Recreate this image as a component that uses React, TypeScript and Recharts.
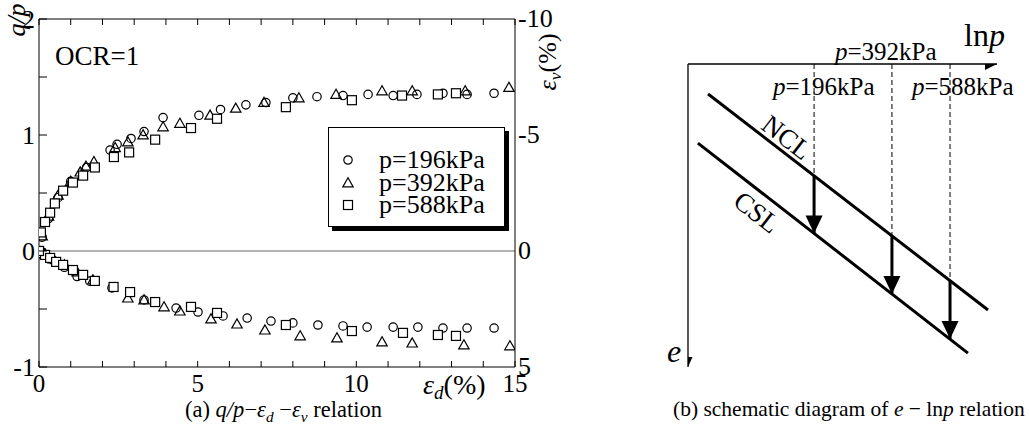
import React from 'react';
import {
  ScatterChart,
  ComposedChart,
  Scatter,
  XAxis,
  YAxis,
  ReferenceLine,
  Legend,
} from 'recharts';

const FONT = '"Liberation Serif", "Times New Roman", Times, serif';

// ---------- (a) q/p – εd – εv, OCR = 1 ----------
const PRESSURES = [196, 392, 588];

// stress ratio q/p against deviatoric strain εd (%)
const ED_Q_196 = [0.1, 0.3, 0.6, 1.0, 1.5, 2.24, 2.46, 2.9, 3.31, 3.91, 5.04, 5.72, 6.52, 7.15, 8.0, 8.76, 9.58, 10.37, 11.16, 11.91, 12.73, 13.49, 14.34];
const QP_196 = [0.12, 0.28, 0.46, 0.6, 0.72, 0.87, 0.92, 0.97, 1.03, 1.15, 1.17, 1.22, 1.26, 1.28, 1.32, 1.33, 1.34, 1.35, 1.34, 1.35, 1.36, 1.35, 1.36];

const ED_Q_392 = [0.1, 0.3, 0.6, 1.0, 1.3, 1.48, 1.73, 2.4, 2.8, 3.28, 3.91, 4.44, 5.39, 6.2, 7.09, 8.19, 9.36, 10.81, 11.76, 13.43, 14.81];
const QP_392 = [0.13, 0.3, 0.48, 0.6, 0.68, 0.73, 0.77, 0.89, 0.94, 1.0, 1.07, 1.1, 1.17, 1.23, 1.28, 1.32, 1.35, 1.38, 1.38, 1.38, 1.41];

const ED_Q_588 = [0.0, 0.06, 0.19, 0.35, 0.5, 0.76, 1.07, 1.39, 1.76, 2.36, 2.84, 3.66, 4.79, 5.61, 7.78, 9.86, 11.44, 12.57, 13.14];
const QP_588 = [0.0, 0.16, 0.25, 0.33, 0.41, 0.52, 0.59, 0.65, 0.72, 0.81, 0.85, 0.96, 1.06, 1.14, 1.24, 1.3, 1.34, 1.35, 1.36];

// volumetric strain εv (%) against deviatoric strain εd (%)
const ED_V_196 = [0.05, 0.2, 0.45, 0.8, 1.2, 1.6, 2.3, 3.31, 4.32, 5.01, 5.8, 6.56, 7.31, 8.0, 8.79, 9.58, 10.34, 11.16, 11.94, 12.73, 13.49, 14.34];
const EV_196 = [0.05, 0.18, 0.4, 0.7, 1.1, 1.3, 1.59, 2.11, 2.46, 2.63, 2.8, 2.89, 3.02, 3.1, 3.19, 3.23, 3.28, 3.28, 3.28, 3.32, 3.32, 3.32];

const ED_V_392 = [0.05, 0.2, 0.45, 0.8, 1.2, 1.7, 2.8, 3.31, 3.94, 4.44, 5.42, 6.24, 7.12, 8.23, 9.39, 10.81, 11.76, 13.39, 14.84];
const EV_392 = [0.04, 0.14, 0.35, 0.6, 0.9, 1.25, 2.03, 2.11, 2.41, 2.59, 2.93, 3.15, 3.41, 3.66, 3.75, 3.92, 3.97, 4.05, 4.09];

const ED_V_588 = [0.0, 0.03, 0.19, 0.35, 0.54, 0.76, 1.07, 1.39, 1.76, 2.35, 2.87, 3.66, 4.79, 5.61, 7.78, 9.86, 11.47, 12.57, 13.14];
const EV_588 = [0.0, 0.09, 0.17, 0.3, 0.47, 0.6, 0.82, 1.03, 1.29, 1.55, 1.77, 2.2, 2.41, 2.67, 3.19, 3.45, 3.53, 3.62, 3.66];

const X_TICKS = [0, 1, 2, 3, 4, 5, 6, 7, 8, 9, 10, 11, 12, 13, 14, 15];
const Q_TICKS = [-1, -0.5, 0, 0.5, 1, 1.5, 2];
const V_TICKS = [-10, -5, 0, 5];

// ---------- (b) schematic e – ln p ----------
const P_POS = [4.08, 6.6, 8.48];
const E_NCL = [3.69, 5.67, 7.15];
const E_CSL = [5.59, 7.59, 9.08];
const NCL_LINE = [{ x: 0.65, y: 0.99 }, { x: 9.71, y: 8.12 }];
const CSL_LINE = [{ x: 0.32, y: 2.61 }, { x: 9.06, y: 9.54 }];
const AXIS_TIPS = [
  { x: 10, y: 0, dir: 'right' },
  { x: 0, y: 10, dir: 'down' },
];

const zip = (xs: number[], ys: number[]) => xs.map((x, i) => ({ x, y: ys[i] }));

// ---------- markers ----------
const CircleMark = (p: any) => (
  <circle cx={p.cx} cy={p.cy} r={4.2} fill="none" stroke="#000" strokeWidth={1.2} />
);
const TriMark = (p: any) => {
  const s = 5.2;
  return (
    <polygon
      points={`${p.cx},${p.cy - s} ${p.cx - s},${p.cy + s * 0.75} ${p.cx + s},${p.cy + s * 0.75}`}
      fill="none"
      stroke="#000"
      strokeWidth={1.2}
    />
  );
};
const SquareMark = (p: any) => (
  <rect x={p.cx - 4.5} y={p.cy - 4.5} width={9} height={9} fill="#fff" stroke="#000" strokeWidth={1.2} />
);
const MARKS = [CircleMark, TriMark, SquareMark];

// ---------- axis ticks (drawn inward) ----------
const TICK_FONT = 25;
const BottomTick = (p: any) => {
  const v = p.payload.value;
  return (
    <g>
      <line x1={p.x} x2={p.x} y1={p.y} y2={p.y - 6} stroke="#000" />
      {v % 5 === 0 && (
        <text x={p.x} y={p.y + 25} textAnchor="middle" fontFamily={FONT} fontSize={TICK_FONT} fill="#000">
          {v}
        </text>
      )}
    </g>
  );
};
const TopTick = (p: any) => (
  <line x1={p.x} x2={p.x} y1={p.y} y2={p.y + 6} stroke="#000" />
);
const LeftTick = (p: any) => {
  const v = p.payload.value;
  const ax = p.x + 4;
  return (
    <g>
      <line x1={ax} x2={ax + 8} y1={p.y} y2={p.y} stroke="#000" />
      {Number.isInteger(v) && (
        <text x={p.x} y={p.y} dy="0.35em" textAnchor="end" fontFamily={FONT} fontSize={TICK_FONT + 1} fill="#000">
          {v}
        </text>
      )}
    </g>
  );
};
const RightTick = (p: any) => (
  <text x={p.x} y={p.y} dy="0.3em" textAnchor="start" fontFamily={FONT} fontSize={TICK_FONT + 1} fill="#000">
    {p.payload.value}
  </text>
);

// ---------- legend box ----------
const LegendBox = () => (
  <div
    style={{
      width: 177,
      height: 100,
      boxSizing: 'border-box',
      border: '1.5px solid #000',
      boxShadow: '4px 4px 0 #000',
      background: '#fff',
      paddingTop: 21,
      fontFamily: FONT,
      fontSize: 26,
    }}
  >
    {PRESSURES.map((p, i) => {
      const Mark = MARKS[i];
      return (
        <div key={p} style={{ display: 'flex', alignItems: 'center', height: 22.5, lineHeight: '22.5px' }}>
          <svg width={50} height={22} style={{ flex: 'none' }}>
            <Mark cx={19} cy={11} />
          </svg>
          <span>p={p}kPa</span>
        </div>
      );
    })}
  </div>
);

// ---------- (b) arrow heads ----------
const DownHead = (p: any) => (
  <polygon points={`${p.cx - 8.5},${p.cy - 18} ${p.cx + 8.5},${p.cy - 18} ${p.cx},${p.cy}`} fill="#000" />
);
const AxisHead = (p: any) =>
  p.payload.dir === 'right' ? (
    <polygon points={`${p.cx - 12},${p.cy - 6} ${p.cx - 12},${p.cy + 6} ${p.cx},${p.cy}`} fill="#000" />
  ) : (
    <polygon points={`${p.cx - 4.5},${p.cy - 10} ${p.cx + 4.5},${p.cy - 10} ${p.cx},${p.cy}`} fill="#000" />
  );

// italic ε with an italic subscript, followed by upright text
const eps = (s: string, after: string) => (
  <>
    <tspan fontStyle="italic">ε</tspan>
    <tspan fontStyle="italic" fontSize="0.68em" dy="5">
      {s}
    </tspan>
    <tspan dy="-5">{after}</tspan>
  </>
);

export default function App() {
  const qSeries = [zip(ED_Q_196, QP_196), zip(ED_Q_392, QP_392), zip(ED_Q_588, QP_588)];
  const vSeries = [zip(ED_V_196, EV_196), zip(ED_V_392, EV_392), zip(ED_V_588, EV_588)];
  const arrowTips = P_POS.map((x, i) => ({ x, y: E_CSL[i] }));

  return (
    <div style={{ position: 'absolute', left: 0, top: 0, width: 1029, height: 439, background: '#fff' }}>
      {/* (a) */}
      <div style={{ position: 'absolute', left: 0, top: 0 }}>
        <ScatterChart width={600} height={439} margin={{ top: 0, right: 25, bottom: 0, left: 0 }}>
          <XAxis
            xAxisId="b"
            type="number"
            dataKey="x"
            domain={[0, 15]}
            ticks={X_TICKS}
            interval={0}
            height={72}
            tickSize={0}
            tickMargin={0}
            tickLine={false}
            tick={BottomTick}
            axisLine={{ stroke: '#000' }}
            allowDataOverflow
          />
          <XAxis
            xAxisId="t"
            orientation="top"
            type="number"
            dataKey="x"
            domain={[0, 15]}
            ticks={X_TICKS}
            interval={0}
            height={19}
            tickSize={0}
            tickMargin={0}
            tickLine={false}
            tick={TopTick}
            axisLine={{ stroke: '#000' }}
            allowDataOverflow
          />
          <YAxis
            yAxisId="q"
            type="number"
            dataKey="y"
            domain={[-1, 2]}
            ticks={Q_TICKS}
            interval={0}
            width={39}
            tickSize={0}
            tickMargin={4}
            tickLine={false}
            tick={LeftTick}
            axisLine={{ stroke: '#000' }}
            allowDataOverflow
          />
          <YAxis
            yAxisId="v"
            orientation="right"
            reversed
            type="number"
            dataKey="y"
            domain={[-10, 5]}
            ticks={V_TICKS}
            interval={0}
            width={60}
            tickSize={0}
            tickMargin={3}
            tickLine={false}
            tick={RightTick}
            axisLine={{ stroke: '#000' }}
            allowDataOverflow
          />
          <ReferenceLine xAxisId="b" yAxisId="q" y={0} stroke="#666" strokeWidth={1} />
          {vSeries.map((d, i) => (
            <Scatter
              key={'v' + i}
              xAxisId="b"
              yAxisId="v"
              data={d}
              shape={MARKS[i]}
              isAnimationActive={false}
            />
          ))}
          {qSeries.map((d, i) => (
            <Scatter
              key={'q' + i}
              xAxisId="b"
              yAxisId="q"
              data={d}
              shape={MARKS[i]}
              isAnimationActive={false}
            />
          ))}
          <Legend
            layout="vertical"
            verticalAlign="middle"
            align="center"
            content={LegendBox}
            wrapperStyle={{ left: 328, top: 127, width: 'auto', height: 'auto' }}
          />
        </ScatterChart>
      </div>

      {/* (b) */}
      <div style={{ position: 'absolute', left: 640, top: 0 }}>
        <ComposedChart width={389} height={439} margin={{ top: 64, right: 32, bottom: 72, left: 48 }}>
          <XAxis type="number" dataKey="x" domain={[0, 10]} hide allowDataOverflow />
          <YAxis type="number" dataKey="y" domain={[0, 10]} reversed hide allowDataOverflow />
          <ReferenceLine segment={[{ x: 0, y: 0 }, { x: 10, y: 0 }]} stroke="#000" strokeWidth={1.3} ifOverflow="visible" />
          <ReferenceLine segment={[{ x: 0, y: 0 }, { x: 0, y: 10 }]} stroke="#000" strokeWidth={1.3} ifOverflow="visible" />
          {P_POS.map((x, i) => (
            <ReferenceLine
              key={'d' + i}
              segment={[{ x, y: 0 }, { x, y: E_NCL[i] }]}
              stroke="#000"
              strokeWidth={1}
              strokeDasharray="5 3"
              ifOverflow="visible"
            />
          ))}
          <ReferenceLine segment={NCL_LINE} stroke="#000" strokeWidth={3} ifOverflow="visible" />
          <ReferenceLine segment={CSL_LINE} stroke="#000" strokeWidth={3} ifOverflow="visible" />
          {P_POS.map((x, i) => (
            <ReferenceLine
              key={'a' + i}
              segment={[{ x, y: E_NCL[i] }, { x, y: E_CSL[i] }]}
              stroke="#000"
              strokeWidth={3}
              ifOverflow="visible"
            />
          ))}
          <Scatter data={arrowTips} shape={DownHead} isAnimationActive={false} />
          <Scatter data={AXIS_TIPS} shape={AxisHead} isAnimationActive={false} />
        </ComposedChart>
      </div>

      {/* annotations */}
      <svg
        width={1029}
        height={439}
        style={{ position: 'absolute', left: 0, top: 0, pointerEvents: 'none' }}
        fontFamily={FONT}
        fill="#000"
      >
        <text transform="translate(25,20) rotate(-90)" textAnchor="middle" fontSize={26} fontStyle="italic">
          q/p
        </text>
        <text x={55} y={65} fontSize={27}>
          OCR=1
        </text>
        <text transform="translate(556,62) rotate(-90)" textAnchor="middle" fontSize={26}>
          {eps('v', '(%)')}
        </text>
        <text x={423} y={394} fontSize={28}>
          {eps('d', '(%)')}
        </text>
        <text x={185} y={417} fontSize={22.5}>
          <tspan>(a) </tspan>
          <tspan fontStyle="italic">q/p</tspan>
          <tspan>−</tspan>
          {eps('d', ' −')}
          {eps('v', ' relation')}
        </text>

        <text x={673} y={416} fontSize={21.5}>
          <tspan>(b) schematic diagram of </tspan>
          <tspan fontStyle="italic">e</tspan>
          <tspan> − ln</tspan>
          <tspan fontStyle="italic">p</tspan>
          <tspan> relation</tspan>
        </text>
        <text x={964} y={46} fontSize={32}>
          <tspan>ln</tspan>
          <tspan fontStyle="italic">p</tspan>
        </text>
        <text x={667} y={362} fontSize={32} fontStyle="italic">
          e
        </text>
        {[
          { x: 773, y: 95, p: PRESSURES[0] },
          { x: 835, y: 60, p: PRESSURES[1] },
          { x: 912, y: 95, p: PRESSURES[2] },
        ].map((t) => (
          <text key={t.p} x={t.x} y={t.y} fontSize={25}>
            <tspan fontStyle="italic">p</tspan>
            <tspan>={t.p}kPa</tspan>
          </text>
        ))}
        <text transform="translate(787,137) rotate(37.6)" textAnchor="middle" dy="0.35em" fontSize={27}>
          NCL
        </text>
        <text transform="translate(757,212) rotate(37.8)" textAnchor="middle" dy="0.35em" fontSize={27}>
          CSL
        </text>
      </svg>
    </div>
  );
}
